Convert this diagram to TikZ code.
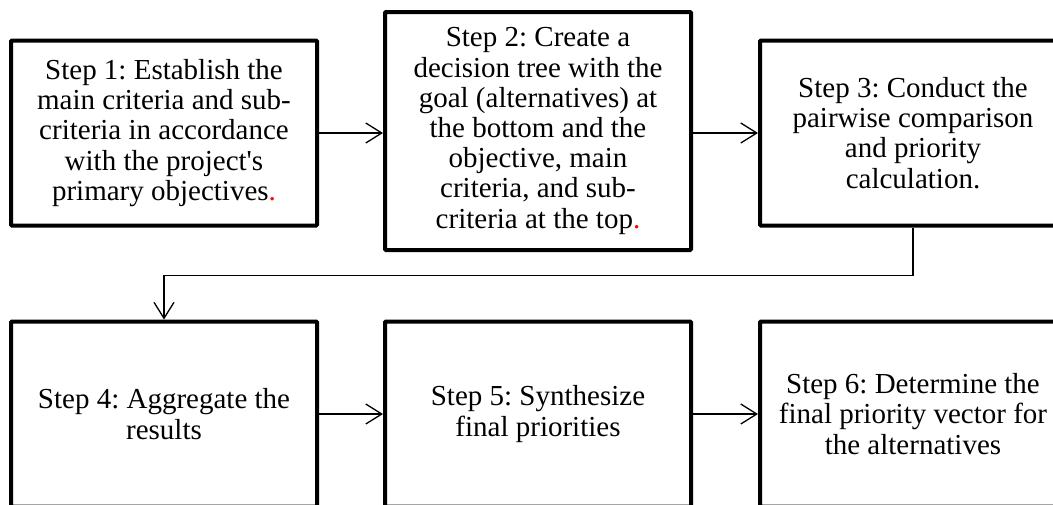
\documentclass[tikz,border=0pt]{standalone}
\usepackage{fontspec}
\setmainfont{Liberation Serif}
\usetikzlibrary{arrows.meta}
\frenchspacing

\begin{document}
\begin{tikzpicture}[x=1pt,y=-1pt,
    stepbox/.style={rectangle,draw,line width=4pt,rounded corners=1pt,
        minimum width=306pt,minimum height=185pt,align=center,inner sep=0pt,
        font=\fontsize{29pt}{30.2pt}\selectfont},
    flow/.style={-{Straight Barb[length=16pt,width=20pt]},line width=1.3pt}]
\useasboundingbox (0,0) rectangle (1053,504);
    \node [stepbox] (s1) at (164,133) {Step 1: Establish the\\main criteria and sub-\\criteria in accordance\\with the project\textquotesingle s\\primary objectives\textcolor{red}{.}};
    \node [stepbox,minimum height=238pt] (s2) at (538,131) {Step 2: Create a\\decision tree with the\\goal (alternatives) at\\the bottom and the\\objective, main\\criteria, and sub-\\criteria at the top\textcolor{red}{.}};
    \node [stepbox] (s3) at (913,133) {Step 3: Conduct the\\pairwise comparison\\and priority\\calculation.};
    \node [stepbox] (s4) at (164,414) {Step 4: Aggregate the\\results};
    \node [stepbox] (s5) at (538,414) {Step 5: Synthesize\\final priorities};
    \node [stepbox] (s6) at (913,414) {Step 6: Determine the\\final priority vector for\\the alternatives};
        \path [flow] (s1.east) edge (s1.east -| s2.west);
        \path [flow] (s2.east |- s3.west) edge (s3.west);
        \draw [flow] (s3.south) -- ++(0,48) -| (s4.north);
        \path [flow] (s4) edge (s5);
        \path [flow] (s5) edge (s6);
\end{tikzpicture}
\end{document}
